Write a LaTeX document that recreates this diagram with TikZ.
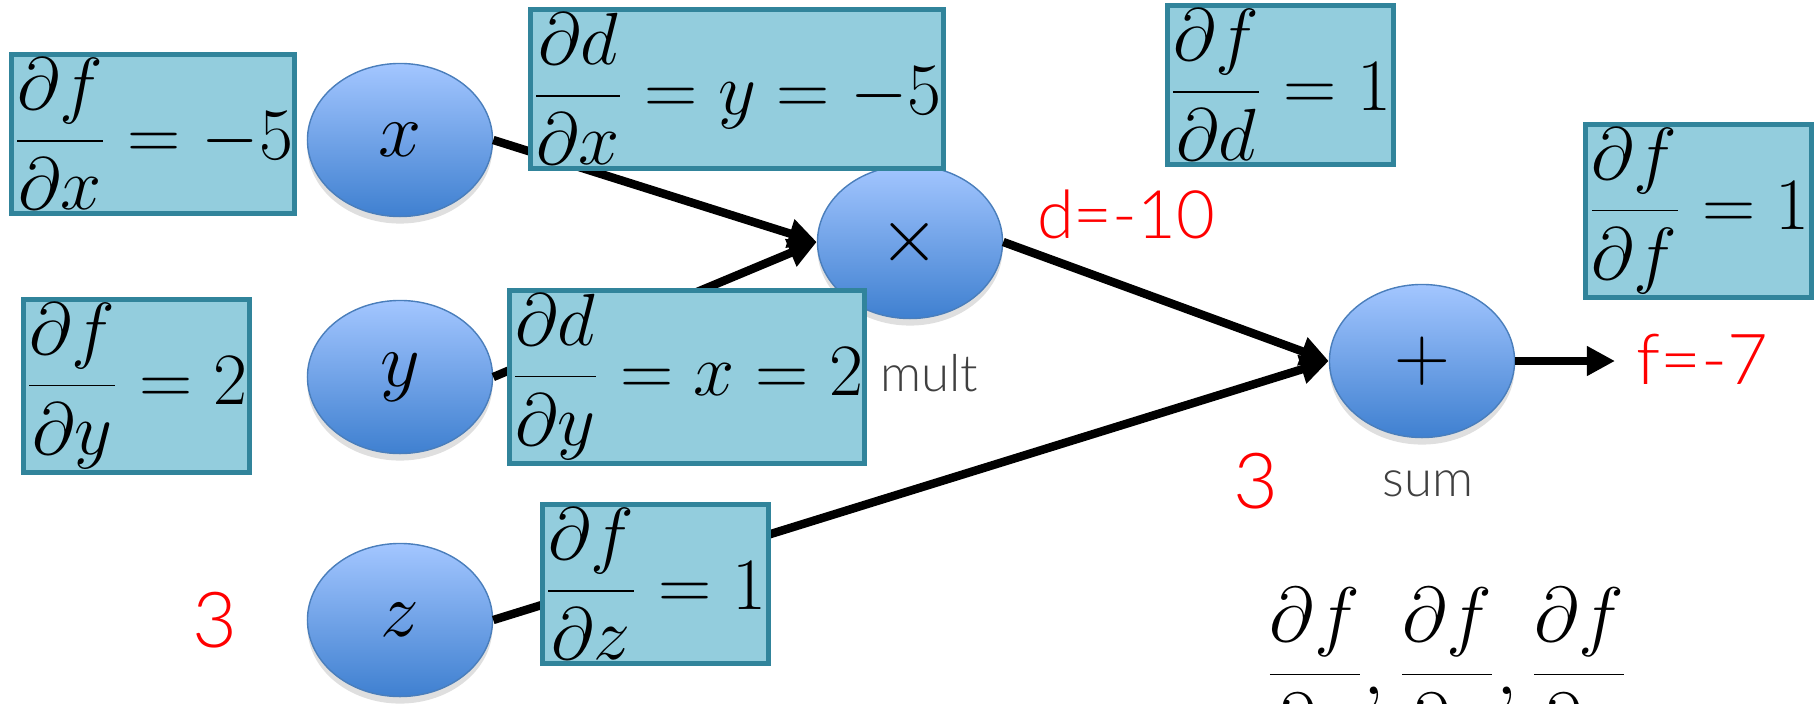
\RequirePackage{fix-cm}
\documentclass[tikz,border=0pt]{standalone}
\usepackage{fontspec}
\setsansfont{Lato Light}
\usetikzlibrary{arrows.meta,shadows,shapes.geometric}
\definecolor{gradfill}{HTML}{93CDDD}
\definecolor{gradline}{HTML}{31849B}
\definecolor{optop}{HTML}{A3C6FF}
\definecolor{opbot}{HTML}{3F80D0}
\definecolor{opline}{HTML}{4A7EBB}
\tikzset{op/.style={ellipse,draw=opline,top color=optop,bottom color=opbot,minimum width=1.85cm,minimum height=1.53cm,font=\fontsize{22}{26}\selectfont,drop shadow={opacity=.25,shadow xshift=0pt,shadow yshift=-2pt}}, grad/.style={draw=gradline,line width=1.4pt,fill=gradfill,inner xsep=.5pt,inner ysep=1pt,anchor=west,font=\fontsize{21}{25}\selectfont}, val/.style={text=red,font=\sffamily\fontsize{19}{22}\selectfont}, opname/.style={text=black!75,font=\sffamily\fontsize{14.5}{17}\selectfont}, wire/.style={line width=2.4pt,-{Triangle[length=8pt,width=8pt]}}}

\begin{document}
\begin{tikzpicture}[x=0.01cm,y=-0.01cm]
\useasboundingbox (0,0) rectangle (1816,703);
\node[op] (x) at (400,140) {$x$};
\node[op] (y) at (400,377) {$y$};
\node[op] (z) at (400,620) {$z$};
\node[op] (mul) at (910,242) {$\times$};
\node[op] (add) at (1422,361) {$+$};
\coordinate (out) at (1615,361);
\draw[wire] (x.east) -- (mul.west);
\draw[wire] (y.east) -- (mul.west);
\draw[wire] (z.east) -- (add.west);
\draw[wire] (mul.east) -- (add.west);
\draw[wire] (add.east) -- (out);
\node[grad] (gx) at (9,134) {$\displaystyle\frac{\partial f}{\partial x}=-5$};
\node[grad] (gmx) at (528,89) {$\displaystyle\frac{\partial d}{\partial x}=y=-5$};
\node[grad] (gd) at (1165,85) {$\displaystyle\frac{\partial f}{\partial d}=1$};
\node[grad,anchor=east] (gf) at (1814,211) {$\displaystyle\frac{\partial f}{\partial f}=1$};
\node[grad] (gy) at (21,386) {$\displaystyle\frac{\partial f}{\partial y}=2$};
\node[grad] (gmy) at (507,377) {$\displaystyle\frac{\partial d}{\partial y}=x=2$};
\node[grad] (gz) at (540,584) {$\displaystyle\frac{\partial f}{\partial z}=1$};
\node[opname,anchor=west] (mulname) at (868,373) {mult};
\node[opname] (addname) at (1428,484) {sum};
\node[val] (dval) at (1126,214) {d=-10};
\node[val,font=\sffamily\fontsize{20}{23}\selectfont] (fval) at (1702,359) {f=-7};
\node[val,font=\sffamily\fontsize{22}{25}\selectfont] (dgrad) at (1256,481) {3};
\node[val,font=\sffamily\fontsize{22}{25}\selectfont] (zval) at (215,620) {3};
\node[anchor=base,font=\fontsize{22}{26}\selectfont] (goal) at (1447,694) {$\displaystyle\frac{\partial f}{\partial x},\frac{\partial f}{\partial y},\frac{\partial f}{\partial z}$};
\end{tikzpicture}
\end{document}
